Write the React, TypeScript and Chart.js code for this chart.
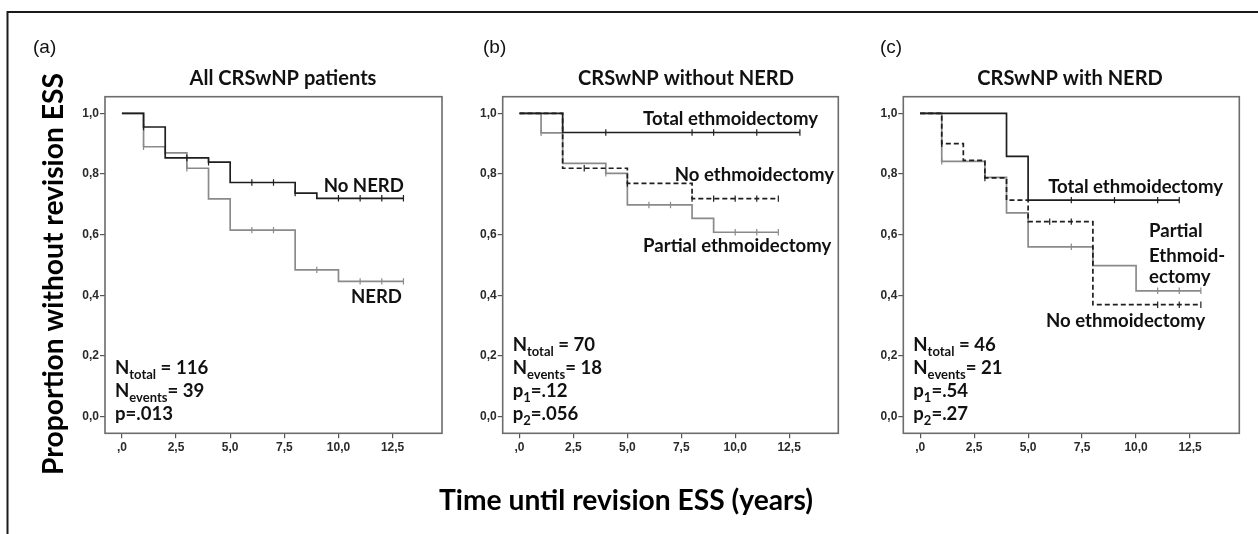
import React, { useEffect, useRef } from "react";
import { Chart, registerables } from "chart.js";

Chart.register(...registerables);

const W = 1258;
const H = 534;

// ---- axis ticks ----
const xTickValues = [0, 2.5, 5, 7.5, 10, 12.5];
const xTickLabels = [",0", "2,5", "5,0", "7,5", "10,0", "12,5"];
const yTickValues = [0, 0.2, 0.4, 0.6, 0.8, 1.0];
const yTickLabels = ["0,0", "0,2", "0,4", "0,6", "0,8", "1,0"];

// ---- panel (a): All CRSwNP patients ----
const aNoNerdTimes = [0, 1, 2, 4, 5, 8, 9, 13];
const aNoNerdSurv = [1.0, 0.955, 0.853, 0.839, 0.772, 0.737, 0.72, 0.72];
const aNoNerdCensor = [1, 3, 4, 6, 7, 8, 10, 11, 12, 13];
const aNerdTimes = [0, 1, 2, 3, 4, 5, 8, 10, 13];
const aNerdSurv = [1.0, 0.89, 0.87, 0.819, 0.718, 0.615, 0.484, 0.446, 0.446];
const aNerdCensor = [1, 3, 6, 7, 9, 11, 12, 13];

// ---- panel (b): CRSwNP without NERD ----
const bTotalTimes = [0, 2, 13];
const bTotalSurv = [1.0, 0.937, 0.937];
const bTotalCensor = [4, 8, 9, 11, 13];
const bNoneTimes = [0, 2, 5, 8, 12];
const bNoneSurv = [1.0, 0.819, 0.769, 0.719, 0.719];
const bNoneCensor = [3, 5, 8, 9, 10, 11, 12];
const bPartialTimes = [0, 1, 2, 4, 5, 8, 9, 12];
const bPartialSurv = [1.0, 0.936, 0.835, 0.802, 0.698, 0.654, 0.608, 0.608];
const bPartialCensor = [1, 4, 6, 7, 10, 11, 12];

// ---- panel (c): CRSwNP with NERD ----
const cTotalTimes = [0, 4, 5, 12];
const cTotalSurv = [1.0, 0.858, 0.714, 0.714];
const cTotalCensor = [7, 9, 11, 12];
const cPartialTimes = [0, 1, 3, 4, 5, 8, 10, 13];
const cPartialSurv = [1.0, 0.842, 0.789, 0.672, 0.56, 0.498, 0.415, 0.415];
const cPartialCensor = [1, 7, 11, 12, 13];
const cNoneTimes = [0, 1, 2, 3, 4, 5, 8, 13];
const cNoneSurv = [1.0, 0.9, 0.845, 0.787, 0.714, 0.643, 0.369, 0.369];
const cNoneCensor = [1, 3, 6, 7, 11, 12, 13];

// ---- texts ----
const yAxisTitle = "Proportion without revision ESS";
const xAxisTitle = "Time until revision ESS (years)";

const FAMILY = '"Lato", "Open Sans", sans-serif';
const TICK_FAMILY = '"Liberation Sans", Arial, sans-serif';

const STYLES: Record<string, any> = {
  dark: { color: "#1e1e1e", width: 1.7, dash: [], order: 1 },
  dash: { color: "#1e1e1e", width: 1.7, dash: [5, 3], order: 2 },
  gray: { color: "#8a8a8a", width: 1.7, dash: [], order: 3 },
};

type Seg = { t: string; sub?: boolean };

const PANELS = [
  {
    key: "a",
    letter: "(a)",
    letterX: 33,
    title: "All CRSwNP patients",
    titleX: 283,
    area: { left: 105, top: 96.7, right: 442, bottom: 433.3 },
    curves: [
      { times: aNerdTimes, surv: aNerdSurv, censor: aNerdCensor, style: "gray" },
      { times: aNoNerdTimes, surv: aNoNerdSurv, censor: aNoNerdCensor, style: "dark" },
    ],
    labels: [
      { text: "No NERD", x: 13.02, y: 0.74, align: "right" },
      { text: "NERD", x: 12.93, y: 0.375, align: "right" },
    ],
    notes: [
      [{ t: "N" }, { t: "total", sub: true }, { t: " = 116" }],
      [{ t: "N" }, { t: "events", sub: true }, { t: "= 39" }],
      [{ t: "p=.013" }],
    ] as Seg[][],
  },
  {
    key: "b",
    letter: "(b)",
    letterX: 483,
    title: "CRSwNP without NERD",
    titleX: 686,
    area: { left: 502.7, top: 96.7, right: 838.3, bottom: 433.3 },
    curves: [
      { times: bPartialTimes, surv: bPartialSurv, censor: bPartialCensor, style: "gray" },
      { times: bNoneTimes, surv: bNoneSurv, censor: bNoneCensor, style: "dash" },
      { times: bTotalTimes, surv: bTotalSurv, censor: bTotalCensor, style: "dark" },
    ],
    labels: [
      { text: "Total ethmoidectomy", x: 5.73, y: 0.961, align: "left" },
      { text: "No ethmoidectomy", x: 7.2, y: 0.778, align: "left" },
      { text: "Partial ethmoidectomy", x: 5.73, y: 0.544, align: "left" },
    ],
    notes: [
      [{ t: "N" }, { t: "total", sub: true }, { t: " = 70" }],
      [{ t: "N" }, { t: "events", sub: true }, { t: "= 18" }],
      [{ t: "p" }, { t: "1", sub: true }, { t: "=.12" }],
      [{ t: "p" }, { t: "2", sub: true }, { t: "=.056" }],
    ] as Seg[][],
  },
  {
    key: "c",
    letter: "(c)",
    letterX: 880,
    title: "CRSwNP with NERD",
    titleX: 1070,
    area: { left: 903.3, top: 96.7, right: 1239.3, bottom: 433.3 },
    curves: [
      { times: cPartialTimes, surv: cPartialSurv, censor: cPartialCensor, style: "gray" },
      { times: cNoneTimes, surv: cNoneSurv, censor: cNoneCensor, style: "dash" },
      { times: cTotalTimes, surv: cTotalSurv, censor: cTotalCensor, style: "dark" },
    ],
    labels: [
      { text: "Total ethmoidectomy", x: 5.93, y: 0.736, align: "left" },
      { text: "Partial", x: 10.6, y: 0.593, align: "left" },
      { text: "Ethmoid-", x: 10.6, y: 0.511, align: "left" },
      { text: "ectomy", x: 10.6, y: 0.441, align: "left" },
      { text: "No ethmoidectomy", x: 5.83, y: 0.297, align: "left" },
    ],
    notes: [
      [{ t: "N" }, { t: "total", sub: true }, { t: " = 46" }],
      [{ t: "N" }, { t: "events", sub: true }, { t: "= 21" }],
      [{ t: "p" }, { t: "1", sub: true }, { t: "=.54" }],
      [{ t: "p" }, { t: "2", sub: true }, { t: "=.27" }],
    ] as Seg[][],
  },
];

const X_MIN = -0.78;
const X_MAX = 14.78;
const Y_MIN = -0.055;
const Y_MAX = 1.055;
const Y_AXIS_W = 40;
const X_AXIS_H = 40;

function stepAt(times: number[], surv: number[], t: number) {
  let v = surv[0];
  for (let i = 0; i < times.length; i++) if (times[i] <= t) v = surv[i];
  return v;
}

function fitSize(ctx: CanvasRenderingContext2D, text: string, target: number) {
  ctx.font = `bold 100px ${FAMILY}`;
  const w = ctx.measureText(text).width;
  return (100 * target) / w;
}

function drawRich(ctx: CanvasRenderingContext2D, segs: Seg[], x: number, y: number, size: number) {
  let cx = x;
  ctx.textAlign = "left";
  ctx.textBaseline = "alphabetic";
  for (const s of segs) {
    if (s.sub) {
      ctx.font = `bold ${size * 0.7}px ${FAMILY}`;
      ctx.fillText(s.t, cx, y + size * 0.25);
    } else {
      ctx.font = `bold ${size}px ${FAMILY}`;
      ctx.fillText(s.t, cx, y);
    }
    cx += ctx.measureText(s.t).width;
  }
}

function makeChart(canvas: HTMLCanvasElement, p: any, isFirst: boolean) {
  const datasets: any[] = [];
  p.curves.forEach((c: any) => {
    const st = STYLES[c.style];
    datasets.push({
      data: c.times.map((t: number, i: number) => ({ x: t, y: c.surv[i] })),
      showLine: true,
      stepped: "before",
      borderColor: st.color,
      borderWidth: st.width,
      borderDash: st.dash,
      pointRadius: 0,
      pointHoverRadius: 0,
      fill: false,
      order: st.order,
    });
    datasets.push({
      data: c.censor.map((t: number) => ({ x: t, y: stepAt(c.times, c.surv, t) })),
      showLine: false,
      pointStyle: "line",
      rotation: 90,
      pointRadius: 3.2,
      pointHoverRadius: 3.2,
      borderColor: st.color,
      backgroundColor: st.color,
      pointBorderWidth: 1.2,
      borderWidth: 1.2,
      order: st.order,
    });
  });

  const deco = {
    id: "deco" + p.key,
    afterDraw(chart: any) {
      const ctx: CanvasRenderingContext2D = chart.ctx;
      const ca = chart.chartArea;
      const xs = chart.scales.x;
      const ys = chart.scales.y;
      ctx.save();
      // plot box
      ctx.strokeStyle = "#6c6c6c";
      ctx.lineWidth = 1.6;
      ctx.strokeRect(ca.left, ca.top, ca.right - ca.left, ca.bottom - ca.top);

      const labelSize = fitSize(ctx, "Total ethmoidectomy", 175);
      const titleSize = fitSize(ctx, "All CRSwNP patients", 187);
      ctx.fillStyle = "#111";

      // panel title
      ctx.font = `bold ${titleSize}px ${FAMILY}`;
      ctx.textAlign = "center";
      ctx.textBaseline = "alphabetic";
      ctx.fillText(p.title, p.titleX, 85);

      // panel letter
      ctx.font = `19px ${TICK_FAMILY}`;
      ctx.textAlign = "left";
      ctx.fillText(p.letter, p.letterX, 53);

      // curve labels
      ctx.font = `bold ${labelSize}px ${FAMILY}`;
      for (const l of p.labels) {
        ctx.textAlign = l.align;
        ctx.fillText(l.text, xs.getPixelForValue(l.x), ys.getPixelForValue(l.y));
      }

      // notes
      const n = p.notes.length;
      p.notes.forEach((segs: Seg[], i: number) => {
        const base = ca.bottom - 13 - 23 * (n - 1 - i);
        drawRich(ctx, segs, ca.left + 10, base, labelSize);
      });

      if (isFirst) {
        const axisSize = fitSize(ctx, yAxisTitle, 402);
        ctx.font = `bold ${axisSize}px ${FAMILY}`;
        ctx.fillStyle = "#000";
        ctx.textAlign = "center";
        ctx.textBaseline = "alphabetic";
        ctx.fillText(xAxisTitle, 626, 510);
        ctx.save();
        ctx.translate(63, 274);
        ctx.rotate(-Math.PI / 2);
        ctx.fillText(yAxisTitle, 0, 0);
        ctx.restore();
        // outer frame
        ctx.strokeStyle = "#1a1a1a";
        ctx.lineWidth = 2;
        ctx.beginPath();
        ctx.moveTo(7.5, H);
        ctx.lineTo(7.5, 12);
        ctx.lineTo(W, 12);
        ctx.stroke();
      }
      ctx.restore();
    },
  };

  const tickFont = { family: TICK_FAMILY, size: 12, weight: "bold" as const };

  return new Chart(canvas, {
    type: "scatter",
    data: { datasets },
    options: {
      animation: false,
      responsive: false,
      devicePixelRatio: 1,
      events: [],
      layout: {
        padding: {
          left: p.area.left - Y_AXIS_W,
          right: W - p.area.right,
          top: p.area.top,
          bottom: H - p.area.bottom - X_AXIS_H,
        },
      },
      plugins: { legend: { display: false }, tooltip: { enabled: false }, title: { display: false } },
      scales: {
        x: {
          type: "linear",
          min: X_MIN,
          max: X_MAX,
          afterBuildTicks: (s: any) => {
            s.ticks = xTickValues.map((v) => ({ value: v }));
          },
          afterFit: (s: any) => {
            s.height = X_AXIS_H;
          },
          ticks: {
            callback: (_v: any, i: number) => xTickLabels[i],
            font: tickFont,
            color: "#2a2a2a",
            padding: 2,
            maxRotation: 0,
            autoSkip: false,
          },
          grid: { display: true, drawOnChartArea: false, drawTicks: true, tickLength: 5, color: "#555", lineWidth: 1.2 },
          border: { display: false },
        },
        y: {
          type: "linear",
          min: Y_MIN,
          max: Y_MAX,
          afterBuildTicks: (s: any) => {
            s.ticks = yTickValues.map((v) => ({ value: v }));
          },
          afterFit: (s: any) => {
            s.width = Y_AXIS_W;
          },
          ticks: {
            callback: (_v: any, i: number) => yTickLabels[i],
            font: tickFont,
            color: "#2a2a2a",
            padding: 1,
            autoSkip: false,
          },
          grid: { display: true, drawOnChartArea: false, drawTicks: true, tickLength: 5, color: "#555", lineWidth: 1.2 },
          border: { display: false },
        },
      },
    },
    plugins: [deco],
  } as any);
}

export default function App() {
  const r0 = useRef<HTMLCanvasElement>(null);
  const r1 = useRef<HTMLCanvasElement>(null);
  const r2 = useRef<HTMLCanvasElement>(null);
  const refs = [r0, r1, r2];

  useEffect(() => {
    const charts = PANELS.map((p, i) => makeChart(refs[i].current as HTMLCanvasElement, p, i === 0));
    return () => charts.forEach((c) => c.destroy());
  }, []);

  return (
    <div
      style={{
        position: "absolute",
        left: 0,
        top: 0,
        width: W,
        height: H,
        background: "#fff",
        overflow: "hidden",
      }}
    >
      {PANELS.map((p, i) => (
        <canvas
          key={p.key}
          ref={refs[i]}
          width={W}
          height={H}
          style={{ position: "absolute", left: 0, top: 0, width: W, height: H }}
        />
      ))}
    </div>
  );
}
